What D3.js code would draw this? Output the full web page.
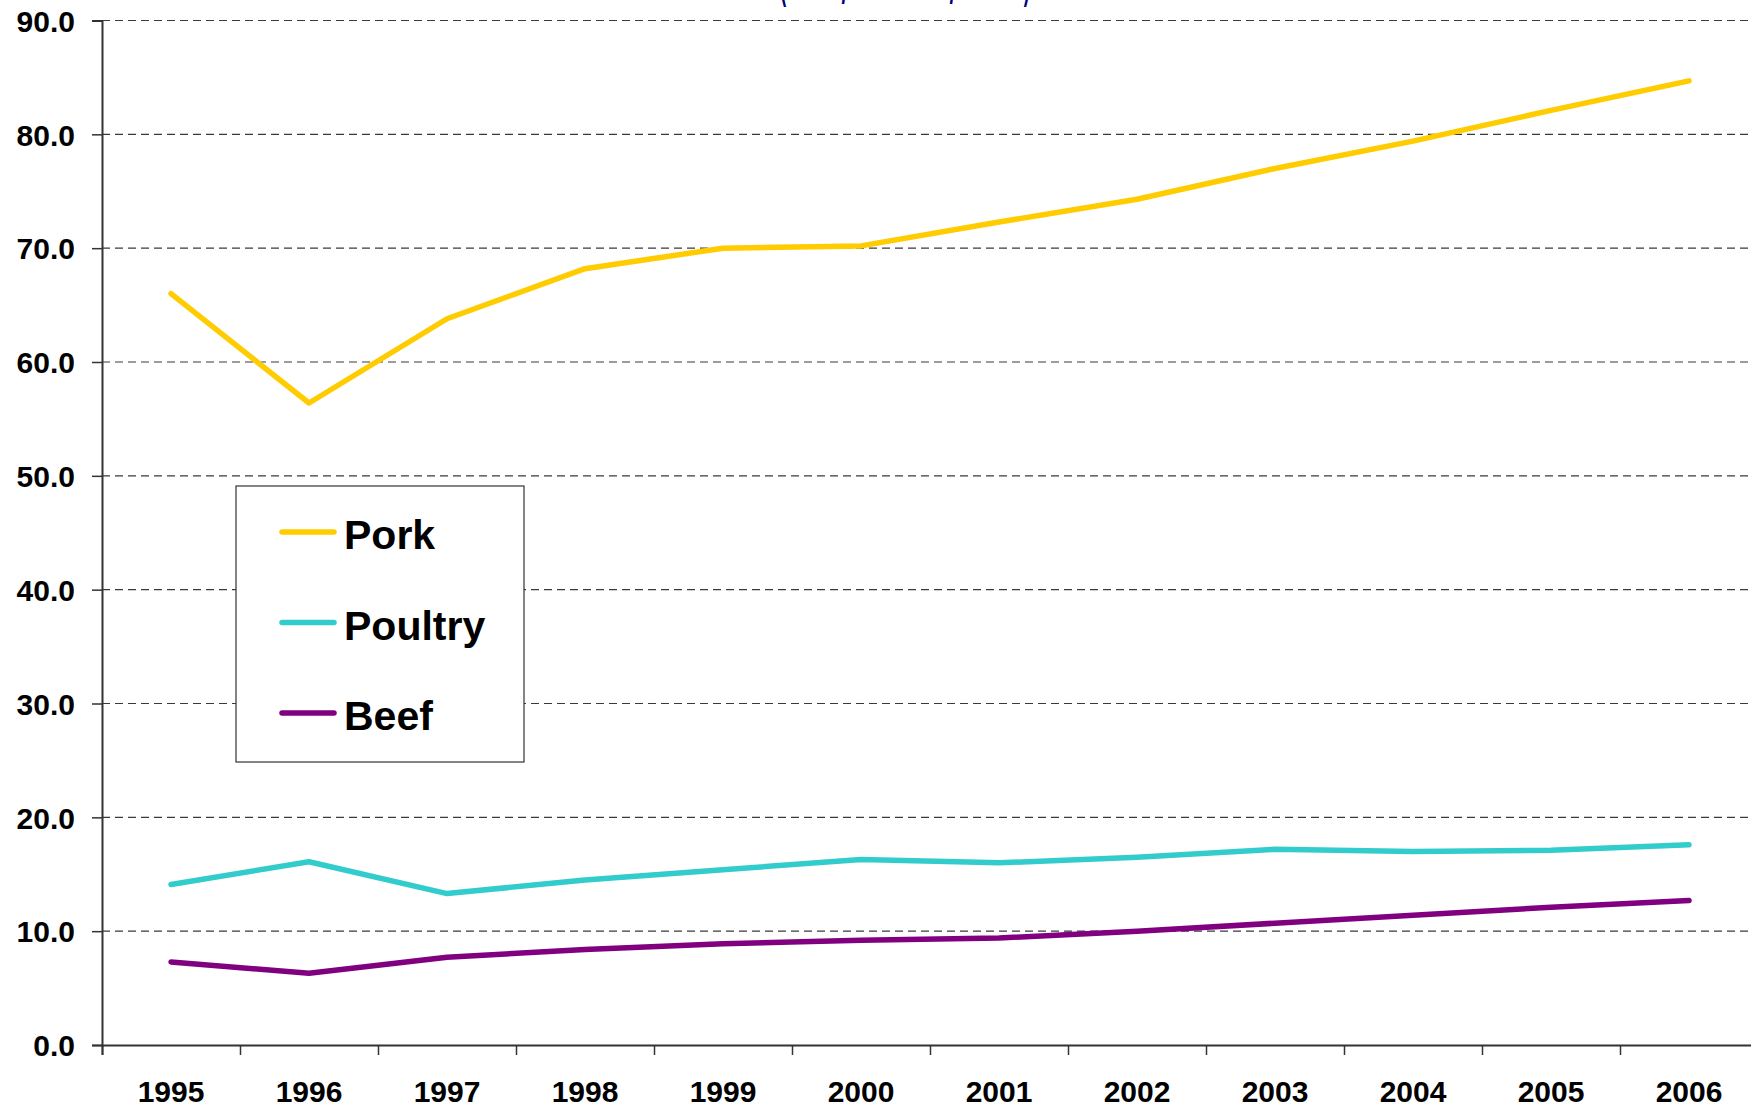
<!DOCTYPE html>
<html>
<head>
<meta charset="utf-8">
<script src="https://cdn.jsdelivr.net/npm/d3@7"></script>
<style>
  body { margin: 0; background: #fff; }
  svg { display: block; }
  .tick text { font-family: "Liberation Sans", Arial, sans-serif; font-weight: bold; fill: #000; }
</style>
</head>
<body>
<div id="chart"></div>
<script>
let years = ["1995", "1996", "1997", "1998", "1999", "2000", "2001", "2002", "2003", "2004", "2005", "2006"];
let pork = [66.0, 56.4, 63.8, 68.2, 70.0, 70.2, 72.3, 74.3, 77.0, 79.4, 82.1, 84.7];
let poultry = [14.1, 16.1, 13.3, 14.5, 15.4, 16.3, 16.0, 16.5, 17.2, 17.0, 17.1, 17.6];
let beef = [7.3, 6.3, 7.7, 8.4, 8.9, 9.2, 9.4, 10.0, 10.7, 11.4, 12.1, 12.7];
let seriesNames = ["Pork", "Poultry", "Beef"];
let seriesColors = ["#ffcc00", "#33cccc", "#800080"];
let yTicks = [0, 10, 20, 30, 40, 50, 60, 70, 80, 90];

let series = [pork, poultry, beef];

let W = 1751, H = 1108;
let margin = {top: 20.5, right: -7, bottom: 63, left: 102},
    width = W - margin.left - margin.right,
    height = H - margin.top - margin.bottom;

let svg = d3.select("#chart").append("svg")
    .attr("width", W)
    .attr("height", H);

// title sits above the picture, only its descenders show
svg.append("text")
    .attr("x", 777)
    .attr("y", -2)
    .attr("textLength", 256)
    .attr("lengthAdjust", "spacingAndGlyphs")
    .style("font-family", "DejaVu Sans, sans-serif")
    .style("font-size", "66px")
    .style("fill", "#000080")
    .text("(Kilo/Person/Year)");

let g = svg.append("g")
    .attr("transform", "translate(" + margin.left + "," + margin.top + ")");

let xScale = d3.scaleBand()
    .domain(years)
    .range([0, width])
    .padding(0);
let xEdge = d3.scaleLinear()
    .domain([0, years.length])
    .range([0, width]);
let yScale = d3.scaleLinear()
    .domain([0, 90])
    .range([height, 0]);

// dashed gridlines
g.selectAll(".grid")
    .data(yTicks.filter(d => d > 0))
    .enter().append("line")
    .attr("class", "grid")
    .attr("x1", 0)
    .attr("x2", W - margin.left)
    .attr("y1", d => yScale(d))
    .attr("y2", d => yScale(d))
    .attr("stroke", "#3a3a3a")
    .attr("stroke-width", 1.2)
    .attr("stroke-dasharray", "8,5");

// y axis
let yAxis = g.append("g")
    .call(d3.axisLeft(yScale).tickValues(yTicks).tickSize(10).tickPadding(17).tickFormat(d3.format(".1f")));
yAxis.selectAll("text").style("font-size", "30px").attr("dy", "0.36em");
yAxis.selectAll("line").attr("stroke", "#333").attr("stroke-width", 1.5);
yAxis.select(".domain").attr("stroke", "#333").attr("stroke-width", 2);

// x axis: ticks between categories
let xTickAxis = g.append("g")
    .attr("transform", "translate(0," + height + ")")
    .call(d3.axisBottom(xEdge).tickValues(d3.range(years.length + 1)).tickSize(10).tickFormat(""));
xTickAxis.selectAll("line").attr("stroke", "#333").attr("stroke-width", 1.5);
xTickAxis.select(".domain").attr("stroke", "#333").attr("stroke-width", 2);

let xLabelAxis = g.append("g")
    .attr("transform", "translate(0," + height + ")")
    .call(d3.axisBottom(xScale).tickSize(0).tickPadding(36));
xLabelAxis.select(".domain").remove();
xLabelAxis.selectAll("text").style("font-size", "30px");

// lines
let line = d3.line()
    .x((d, i) => xScale(years[i]) + xScale.bandwidth() / 2)
    .y(d => yScale(d));

g.selectAll(".series")
    .data(series)
    .enter().append("path")
    .attr("class", "series")
    .attr("d", d => line(d))
    .attr("fill", "none")
    .attr("stroke", (d, i) => seriesColors[i])
    .attr("stroke-width", 5.5)
    .attr("stroke-linecap", "round")
    .attr("stroke-linejoin", "round");

// legend
let legend = svg.append("g")
    .attr("transform", "translate(236,486)");

legend.append("rect")
    .attr("width", 288)
    .attr("height", 276)
    .attr("fill", "#fff")
    .attr("stroke", "#333")
    .attr("stroke-width", 1.2);

let items = legend.selectAll(".item")
    .data(seriesNames)
    .enter().append("g")
    .attr("class", "item")
    .attr("transform", (d, i) => "translate(0," + (46 + i * 90.5) + ")");

items.append("line")
    .attr("x1", 46)
    .attr("x2", 98)
    .attr("stroke", (d, i) => seriesColors[i])
    .attr("stroke-width", 5.5)
    .attr("stroke-linecap", "round");

items.append("text")
    .attr("x", 108)
    .attr("y", 17)
    .style("font-family", "Liberation Sans, Arial, sans-serif")
    .style("font-weight", "bold")
    .style("font-size", "41px")
    .text(d => d);
</script>
</body>
</html>
